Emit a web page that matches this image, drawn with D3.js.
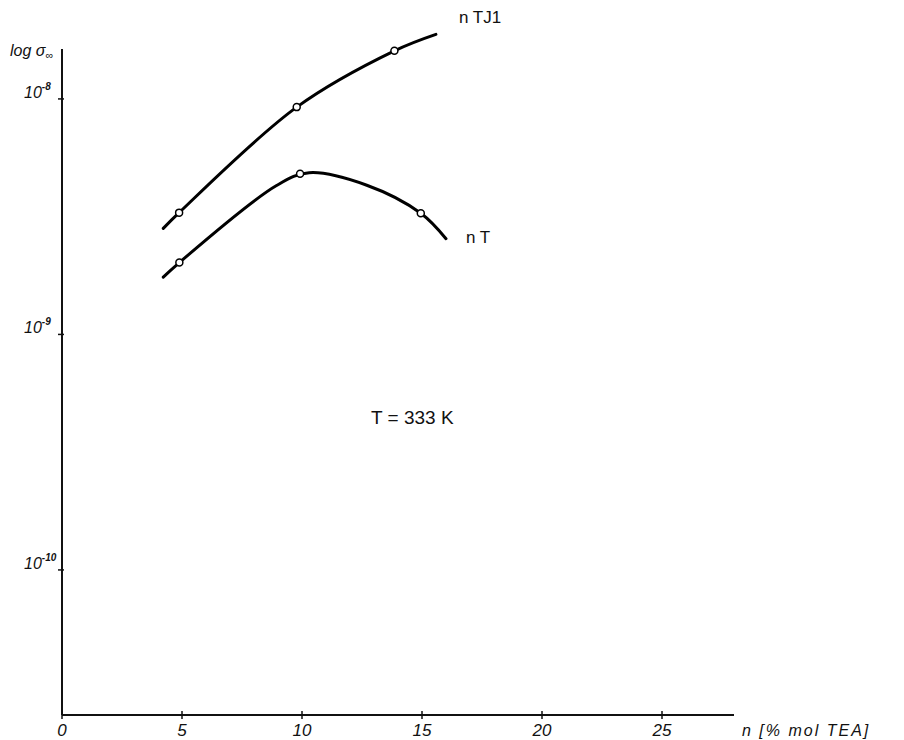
<!DOCTYPE html>
<html>
<head>
<meta charset="utf-8">
<script src="https://cdn.jsdelivr.net/npm/d3@7/dist/d3.min.js"></script>
<style>
  html, body { margin: 0; padding: 0; background: #fff; }
  svg text { font-family: "Liberation Sans", "DejaVu Sans", sans-serif; fill: #111; }
</style>
</head>
<body>
<svg id="chart" width="904" height="740"></svg>
<script>
// x: n [% mol TEA]; y: conductivity sigma_inf (log scale)
const xTicks = [0, 5, 10, 15, 20, 25];
const yTicks = [1e-8, 1e-9, 1e-10];
const yTickExps = ["-8", "-9", "-10"];

// measured points
const nTJ1_n = [4.88, 9.78, 13.85];
const nTJ1_sigma = [3.29e-9, 9.23e-9, 1.60e-8];
const nT_n = [4.89, 9.92, 14.95];
const nT_sigma = [2.02e-9, 4.81e-9, 3.27e-9];

// smoothed curves drawn through the measurements
const nTJ1_curveN = [4.22, 4.88, 9.78, 13.85, 15.58];
const nTJ1_curveS = [2.82e-9, 3.29e-9, 9.23e-9, 1.60e-8, 1.88e-8];
const nT_curveN = [4.22, 4.89, 8.94, 10.3, 12.7, 14.95, 16.0];
const nT_curveS = [1.75e-9, 2.02e-9, 4.29e-9, 4.86e-9, 4.30e-9, 3.27e-9, 2.55e-9];

const svg = d3.select("#chart");

const x = d3.scaleLinear().domain([0, 28]).range([62, 734]);
const y = d3.scaleLog().domain([Math.pow(10, -10.616), Math.pow(10, -7.788)]).range([715, 49]);

// axes
const axisG = svg.append("g").attr("stroke", "#111").attr("stroke-width", 2);
axisG.append("line").attr("x1", x(0)).attr("x2", x(0)).attr("y1", y.range()[0]).attr("y2", y.range()[1]);
axisG.append("line").attr("x1", x(0)).attr("x2", x(28)).attr("y1", y.range()[0]).attr("y2", y.range()[0]);

// x ticks
const xt = svg.append("g");
xt.selectAll("line").data(xTicks).join("line")
  .attr("x1", d => x(d)).attr("x2", d => x(d))
  .attr("y1", 711).attr("y2", 719)
  .attr("stroke", "#111").attr("stroke-width", 1.5);
xt.selectAll("text").data(xTicks).join("text")
  .attr("x", d => x(d)).attr("y", 736)
  .attr("text-anchor", "middle")
  .attr("font-size", 17).attr("font-style", "italic")
  .text(d => d);

// y ticks
const yt = svg.append("g");
yt.selectAll("line").data(yTicks).join("line")
  .attr("x1", x(0) - 4).attr("x2", x(0) + 2)
  .attr("y1", d => y(d)).attr("y2", d => y(d))
  .attr("stroke", "#111").attr("stroke-width", 1.5);
const ylab = yt.selectAll("text").data(yTicks).join("text")
  .attr("x", 24).attr("y", d => y(d) - 1)
  .attr("font-size", 16).attr("font-style", "italic");
ylab.append("tspan").text("10");
ylab.append("tspan").attr("dy", -8).attr("font-size", 10).attr("font-weight", "bold").text((d, i) => yTickExps[i]);

// curves
const line = d3.line().curve(d3.curveCatmullRom.alpha(0.5)).x(d => x(d[0])).y(d => y(d[1]));
const series = [
  { cn: nTJ1_curveN, cs: nTJ1_curveS, pn: nTJ1_n, ps: nTJ1_sigma },
  { cn: nT_curveN, cs: nT_curveS, pn: nT_n, ps: nT_sigma }
];
series.forEach(s => {
  svg.append("path")
    .attr("d", line(s.cn.map((n, i) => [n, s.cs[i]])))
    .attr("fill", "none").attr("stroke", "#000").attr("stroke-width", 3)
    .attr("stroke-linecap", "round");
  svg.append("g").selectAll("circle").data(s.pn.map((n, i) => [n, s.ps[i]])).join("circle")
    .attr("cx", d => x(d[0])).attr("cy", d => y(d[1])).attr("r", 3.5)
    .attr("fill", "#fff").attr("stroke", "#000").attr("stroke-width", 1.5);
});

// labels
svg.append("text").attr("x", 459).attr("y", 23).attr("font-size", 17).text("n TJ1");
svg.append("text").attr("x", 466).attr("y", 243).attr("font-size", 17).text("n T");
svg.append("text").attr("x", 371).attr("y", 424).attr("font-size", 19).text("T = 333 K");
svg.append("text").attr("x", 742).attr("y", 736).attr("font-size", 16).attr("font-style", "italic")
  .attr("letter-spacing", 2).text("n [% mol TEA]");
const yl = svg.append("text").attr("x", 10).attr("y", 56).attr("font-size", 16).attr("font-style", "italic");
yl.append("tspan").text("log σ");
yl.append("tspan").attr("dy", 3).attr("font-size", 11).text("∞");
</script>
</body>
</html>
